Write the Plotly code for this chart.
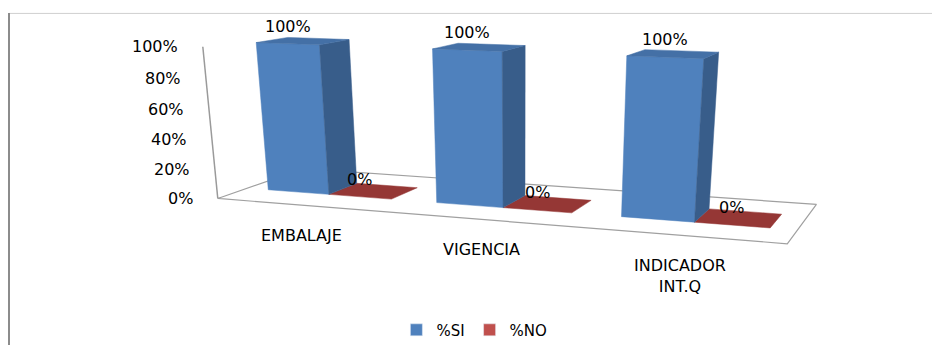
import numpy as np
import plotly.graph_objects as go

# ---- chart data ----
categories = ["EMBALAJE", "VIGENCIA", "INDICADOR<br>INT.Q"]
si_values = [100, 100, 100]
no_values = [0, 0, 0]
series_names = ["%SI", "%NO"]
series_colors = ["#4F81BD", "#C0504D"]
tick_values = [0, 20, 40, 60, 80, 100]
tick_labels = ["0%", "20%", "40%", "60%", "80%", "100%"]
VALUE_MAX = 100

W, H = 932, 347

# ---- 3-D plot box: world (category, depth, value) -> screen corners ----
# world X spans the 3 categories, Y is depth 0 (front) .. 1 (back), Z is 0 .. 100 %
BOX_CORNERS = [
    ((0, 0, 0), (217.8, 199.6)), ((3, 0, 0), (787.3, 245.2)),
    ((3, 1, 0), (816.4, 205.5)), ((0, 1, 0), (303.8, 169.6)),
    ((0, 0, 1), (202.8, 47.0)), ((3, 0, 1), (802.6, 69.7)),
    ((3, 1, 1), (831.3, 50.3)), ((0, 1, 1), (294.3, 32.6)),
]
GAP = 0.13            # gap on each side of a cluster, in category units
DEPTH_FRONT = 0.32    # bar front face depth
DEPTH_BACK = 0.675    # bar back face depth


def solve_camera(pairs):
    """Perspective camera (3x4) from world/screen correspondences (DLT)."""
    rows = []
    for (X, Y, Z), (u, v) in pairs:
        u = (u - 466) / 300.0
        v = (v - 170) / 300.0
        rows.append([X, Y, Z, 1, 0, 0, 0, 0, -u * X, -u * Y, -u * Z, -u])
        rows.append([0, 0, 0, 0, X, Y, Z, 1, -v * X, -v * Y, -v * Z, -v])
    _, _, vt = np.linalg.svd(np.array(rows, float))
    T = np.array([[300, 0, 466], [0, 300, 170], [0, 0, 1.0]])
    return T @ vt[-1].reshape(3, 4)


CAM = solve_camera(BOX_CORNERS)


def proj(X, Y, Z):
    p = CAM @ np.array([X, Y, Z, 1.0])
    return p[0] / p[2], p[1] / p[2]


fig = go.Figure()


def quad(pts, fill, line=None, width=0.0):
    xs, ys = zip(*[proj(*p) for p in pts])
    fig.add_trace(go.Scatter(
        x=list(xs) + [xs[0]], y=list(ys) + [ys[0]], mode="lines", fill="toself",
        fillcolor=fill, line=dict(color=line or fill, width=width if line else 0.5),
        hoverinfo="skip", showlegend=False))


# floor of the plot box
quad([(0, 0, 0), (3, 0, 0), (3, 1, 0), (0, 1, 0)], "white", "#a0a0a0", 1.2)

# value axis line
ax0, ax1 = proj(0, 0, 0), proj(0, 0, 1)
fig.add_trace(go.Scatter(x=[ax0[0], ax1[0]], y=[ax0[1], ax1[1]], mode="lines",
                         line=dict(color="#9a9a9a", width=1.5),
                         hoverinfo="skip", showlegend=False))

face_styles = {
    "%SI": dict(front="#4F81BD", side="#385D8A", top="#4470A6"),
    "%NO": dict(front="#C0504D", side="#8C3836", top="#953735"),
}


def draw_column(x0, x1, h, st):
    y0, y1 = DEPTH_FRONT, DEPTH_BACK
    if h > 0:
        quad([(x0, y0, 0), (x1, y0, 0), (x1, y0, h), (x0, y0, h)], st["front"])
        quad([(x1, y0, 0), (x1, y1, 0), (x1, y1, h), (x1, y0, h)], st["side"])
    quad([(x0, y0, h), (x1, y0, h), (x1, y1, h), (x0, y1, h)], st["top"])


font = dict(family="DejaVu Sans", size=16, color="black")
annotations = []

for i, cat in enumerate(categories):
    xl, xm, xr = i + GAP, i + 0.5, i + 1 - GAP
    h_si = si_values[i] / VALUE_MAX
    h_no = no_values[i] / VALUE_MAX
    # right-hand column first so the left one's side face overlaps it
    draw_column(xm, xr, h_no, face_styles["%NO"])
    draw_column(xl, xm, h_si, face_styles["%SI"])

    for x0, x1, h, val in [(xl, xm, h_si, si_values[i]), (xm, xr, h_no, no_values[i])]:
        lx, ly = proj((x0 + x1) / 2, DEPTH_FRONT, h)
        annotations.append(dict(x=lx, y=ly, text=f"{val}%", showarrow=False, yshift=17.5,
                                xanchor="center", yanchor="middle", font=font))

    cx, cy = proj(i + 0.5, 0, 0)
    annotations.append(dict(x=cx, y=cy, text=cat, showarrow=False, yshift=-19,
                            xanchor="center", yanchor="top", font=font))

for t, lab in zip(tick_values, tick_labels):
    tx, ty = proj(0, 0, t / VALUE_MAX)
    annotations.append(dict(x=tx, y=ty, text=lab, showarrow=False, xshift=-23,
                            xanchor="right", yanchor="middle", font=font))

# legend entries
for name, col in zip(series_names, series_colors):
    fig.add_trace(go.Bar(x=[None], y=[None], name=name, marker_color=col, hoverinfo="skip"))

fig.update_layout(
    width=W, height=H, margin=dict(l=0, r=0, t=0, b=0),
    paper_bgcolor="white", plot_bgcolor="white",
    xaxis=dict(range=[0, W], visible=False, fixedrange=True),
    yaxis=dict(range=[H, 0], visible=False, fixedrange=True),
    annotations=annotations,
    showlegend=True,
    legend=dict(orientation="h", x=0.509, xanchor="center", y=1 - 332 / H, yanchor="middle",
                font=dict(family="DejaVu Sans", size=15, color="black"),
                bgcolor="rgba(0,0,0,0)"),
    shapes=[
        dict(type="line", x0=9, x1=W, y0=13.5, y1=13.5, line=dict(color="#cfcfcf", width=1)),
        dict(type="line", x0=9, x1=9, y0=13, y1=H, line=dict(color="#8c8c8c", width=2)),
    ],
)

fig.write_html("out.html")
